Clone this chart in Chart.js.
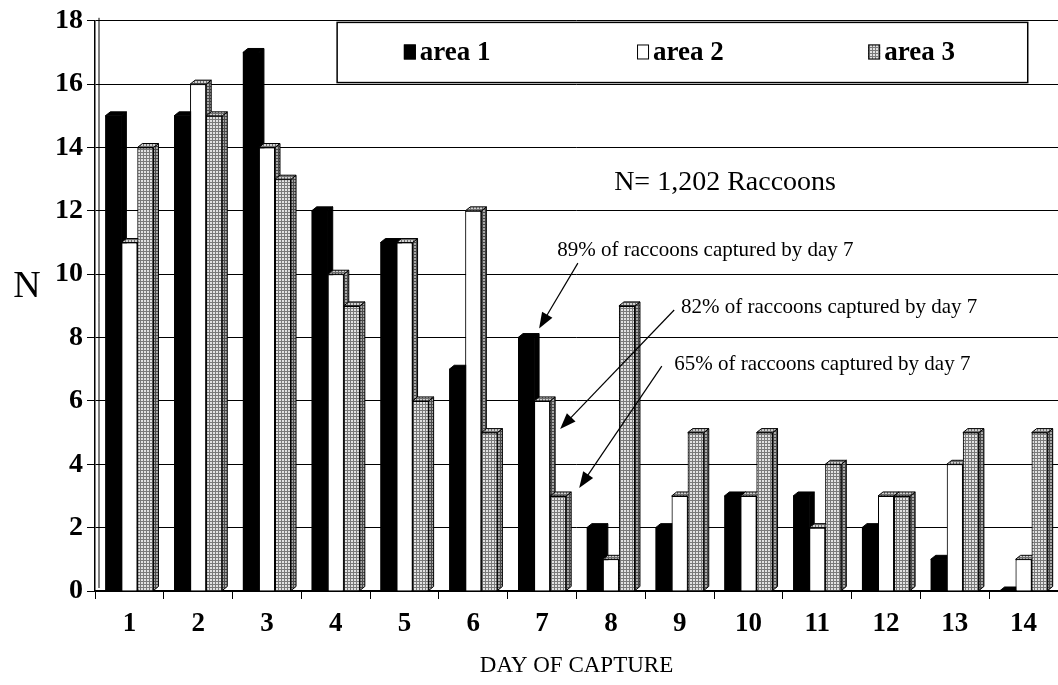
<!DOCTYPE html>
<html>
<head>
<meta charset="utf-8">
<script src="https://cdn.jsdelivr.net/npm/chart.js@4.4.0/dist/chart.umd.min.js"></script>
<style>
    html, body { margin: 0; padding: 0; background: #fff; }
    #wrap { width: 1058px; height: 685px; }
</style>
</head>
<body>
<div id="wrap"><canvas id="chart" width="1058" height="685"></canvas></div>
<script>
// data
const days = ['1', '2', '3', '4', '5', '6', '7', '8', '9', '10', '11', '12', '13', '14']
const area1 = [15, 15, 17, 12, 11, 7, 8, 2, 2, 3, 3, 2, 1, 0]
const area2 = [11, 16, 14, 10, 11, 12, 6, 1, 3, 3, 2, 3, 4, 1]
const area3 = [14, 15, 13, 9, 6, 5, 3, 9, 5, 5, 4, 3, 5, 5]
const seriesNames = ['area 1', 'area 2', 'area 3']
const totalNote = 'N= 1,202 Raccoons'
const dayNotes = ['89% of raccoons captured by day 7', '82% of raccoons captured by day 7', '65% of raccoons captured by day 7']

const SERIF = "'Liberation Serif', 'Times New Roman', serif"
const DEPTH_X = 5
const DEPTH_Y = -4

function makePattern(bg, line) {
    let c = document.createElement('canvas')
    c.width = 3
    c.height = 3
    let g = c.getContext('2d')
    g.fillStyle = bg
    g.fillRect(0, 0, 3, 3)
    g.fillStyle = line
    g.fillRect(0, 2, 3, 1)
    g.fillRect(2, 0, 1, 3)
    return g.createPattern(c, 'repeat')
}

const grayFront = makePattern('#e2e2e2', '#7a7a7a')
const graySide = makePattern('#a8a8a8', '#4a4a4a')
const grayTop = makePattern('#d0d0d0', '#707070')

// colours for front / side / top of each series
const faces = [
    {front: '#000', side: '#000', top: '#000'},
    {front: '#fff', side: graySide, top: grayTop},
    {front: grayFront, side: graySide, top: grayTop},
]

function arrow(ctx, x1, y1, x2, y2) {
    let a = Math.atan2(y2 - y1, x2 - x1)
    let len = 16, half = 6
    ctx.save()
    ctx.strokeStyle = '#000'
    ctx.fillStyle = '#000'
    ctx.lineWidth = 1.2
    ctx.beginPath()
    ctx.moveTo(x1, y1)
    ctx.lineTo(x2 - Math.cos(a) * len * 0.8, y2 - Math.sin(a) * len * 0.8)
    ctx.stroke()
    ctx.beginPath()
    ctx.moveTo(x2, y2)
    ctx.lineTo(x2 - Math.cos(a) * len - Math.sin(a) * half, y2 - Math.sin(a) * len + Math.cos(a) * half)
    ctx.lineTo(x2 - Math.cos(a) * len + Math.sin(a) * half, y2 - Math.sin(a) * len - Math.cos(a) * half)
    ctx.closePath()
    ctx.fill()
    ctx.restore()
}

// redraw bars left to right (area 1, 2, 3) with a top and a side face,
// so each bar hides the side of the one before it
const bars3d = {
    id: 'bars3d',
    afterDatasetsDraw(chart) {
        let ctx = chart.ctx
        ctx.save()
        for (let i = 0; i < chart.data.datasets.length; i++) {
            let f = faces[i]
            chart.getDatasetMeta(i).data.forEach((bar) => {
                bar.draw(ctx, chart.chartArea)
                let {x, y, base, width} = bar.getProps(['x', 'y', 'base', 'width'], true)
                let l = x - width / 2, r = x + width / 2
                ctx.strokeStyle = '#000'
                ctx.lineWidth = 1
                ctx.beginPath()
                ctx.moveTo(r, y)
                ctx.lineTo(r + DEPTH_X, y + DEPTH_Y)
                ctx.lineTo(r + DEPTH_X, base + DEPTH_Y)
                ctx.lineTo(r, base)
                ctx.closePath()
                ctx.fillStyle = f.side
                ctx.fill()
                ctx.stroke()
                ctx.beginPath()
                ctx.moveTo(l, y)
                ctx.lineTo(l + DEPTH_X, y + DEPTH_Y)
                ctx.lineTo(r + DEPTH_X, y + DEPTH_Y)
                ctx.lineTo(r, y)
                ctx.closePath()
                ctx.fillStyle = f.top
                ctx.fill()
                ctx.stroke()
            })
        }
        ctx.restore()
    },
}

const extras = {
    id: 'extras',
    afterDraw(chart) {
        let ctx = chart.ctx
        let xs = chart.scales.x, ys = chart.scales.y
        let area = chart.chartArea

        // second line of the 3D side wall
        ctx.save()
        ctx.strokeStyle = '#000'
        ctx.lineWidth = 1
        ctx.beginPath()
        ctx.moveTo(area.left + 4, area.top - 3)
        ctx.lineTo(area.left + 4, area.bottom - 3)
        ctx.stroke()
        ctx.restore()

        // y title, upright
        ctx.save()
        ctx.fillStyle = '#000'
        ctx.font = '38px ' + SERIF
        ctx.textAlign = 'center'
        ctx.textBaseline = 'middle'
        ctx.fillText('N', 27, ys.getPixelForValue(9.6))
        ctx.restore()

        // legend box
        let bx = xs.getPixelForValue(3.02), bx2 = xs.getPixelForValue(13.06)
        let by = ys.getPixelForValue(17.95), by2 = ys.getPixelForValue(16.05)
        ctx.save()
        ctx.fillStyle = '#fff'
        ctx.fillRect(bx, by, bx2 - bx, by2 - by)
        ctx.strokeStyle = '#000'
        ctx.lineWidth = 1.5
        ctx.strokeRect(bx, by, bx2 - bx, by2 - by)
        let ly = (by + by2) / 2
        let itemX = [3.99, 7.38, 10.74]
        ctx.font = 'bold 27px ' + SERIF
        ctx.textBaseline = 'middle'
        ctx.textAlign = 'left'
        seriesNames.forEach((name, i) => {
            let mx = xs.getPixelForValue(itemX[i])
            ctx.fillStyle = faces[i].front
            ctx.fillRect(mx, ly - 8, 12, 15)
            ctx.strokeStyle = '#000'
            ctx.lineWidth = 1
            ctx.strokeRect(mx + 0.5, ly - 7.5, 11, 14)
            ctx.fillStyle = '#000'
            ctx.fillText(name, mx + 16, ly + 1)
        })
        ctx.restore()

        // notes
        ctx.save()
        ctx.fillStyle = '#000'
        ctx.textBaseline = 'middle'
        ctx.font = '28px ' + SERIF
        ctx.textAlign = 'center'
        ctx.fillText(totalNote, xs.getPixelForValue(8.66), ys.getPixelForValue(12.9))
        ctx.font = '21px ' + SERIF
        ctx.textAlign = 'left'
        let notePos = [[6.22, 10.75], [8.02, 8.95], [7.92, 7.15]]
        dayNotes.forEach((t, i) => {
            ctx.fillText(t, xs.getPixelForValue(notePos[i][0]), ys.getPixelForValue(notePos[i][1]))
        })
        ctx.restore()

        // arrows to the day-7 bars
        let d7 = 6
        let b1 = chart.getDatasetMeta(0).data[d7]
        let b2 = chart.getDatasetMeta(1).data[d7]
        let b3 = chart.getDatasetMeta(2).data[d7]
        arrow(ctx, xs.getPixelForValue(6.52), ys.getPixelForValue(10.35), b1.x + b1.width / 2 + 5, b1.y - 9)
        arrow(ctx, xs.getPixelForValue(7.92), ys.getPixelForValue(8.87), b2.x + b2.width / 2 + 10, b2.y + 28)
        arrow(ctx, xs.getPixelForValue(7.74), ys.getPixelForValue(7.1), b3.x + b3.width / 2 + 13, b3.y - 8)
    },
}

new Chart(document.getElementById('chart'), {
    type: 'bar',
    data: {
        labels: days,
        datasets: [
            {label: seriesNames[0], data: area1, backgroundColor: faces[0].front, borderColor: '#000', borderWidth: 0},
            {label: seriesNames[1], data: area2, backgroundColor: faces[1].front, borderColor: '#000', borderWidth: 1},
            {label: seriesNames[2], data: area3, backgroundColor: faces[2].front, borderColor: '#000', borderWidth: 1},
        ],
    },
    options: {
        responsive: false,
        devicePixelRatio: 1,
        animation: false,
        layout: {padding: {top: 18, right: 0, left: 0, bottom: 0}},
        datasets: {bar: {categoryPercentage: 0.7, barPercentage: 1.0}},
        plugins: {legend: {display: false}, tooltip: {enabled: false}},
        scales: {
            x: {
                grid: {display: true, drawOnChartArea: false, offset: true, color: '#000', tickLength: 8},
                border: {color: '#000', width: 1.5},
                ticks: {color: '#000', font: {family: SERIF, size: 27, weight: 'bold'}, padding: 9, maxRotation: 0},
                title: {display: true, text: 'DAY OF CAPTURE', color: '#000', font: {family: SERIF, size: 23}, padding: {top: 0, bottom: 5}},
                afterFit(scale) { scale.height = 94 },
            },
            y: {
                min: 0,
                max: 18,
                ticks: {stepSize: 2, color: '#000', font: {family: SERIF, size: 28, weight: 'bold'}, padding: 4},
                grid: {color: '#000', lineWidth: 1, tickLength: 8},
                border: {color: '#000', width: 1.5},
                afterFit(scale) { scale.width = 95 },
            },
        },
    },
    plugins: [bars3d, extras],
})
</script>
</body>
</html>
